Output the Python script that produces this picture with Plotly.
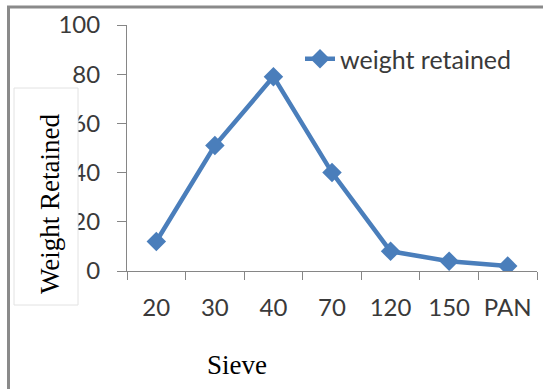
import plotly.graph_objects as go

# Sieve analysis: weight retained on each sieve
sieves = ["20", "30", "40", "70", "120", "150", "PAN"]
weight_retained = [12, 51, 79, 40, 8, 4, 2]
y_ticks = [0, 20, 40, 60, 80, 100]

W, H = 543, 389
L, R, T, B = 127, 6, 25, 118
pw, ph = W - L - R, H - T - B


def px_x(x):
    return (x - L) / pw


def px_y(y):
    return (H - B - y) / ph


blue = "#4a7ebb"
axis_grey = "#868686"
label_grey = "#3a3a3a"

fig = go.Figure()
fig.add_trace(go.Scatter(
    x=sieves, y=weight_retained, mode="lines+markers",
    name="weight retained",
    line=dict(color=blue, width=4.5),
    marker=dict(symbol="diamond", size=15, color=blue),
))

fig.update_layout(
    width=W, height=H,
    margin=dict(l=L, r=R, t=T, b=B),
    paper_bgcolor="white", plot_bgcolor="white",
    font=dict(family="Lato", color=label_grey),
    showlegend=True,
    legend=dict(x=px_x(300), y=px_y(59), xanchor="left", yanchor="middle",
                bgcolor="rgba(0,0,0,0)", font=dict(size=25, color=label_grey)),
    xaxis=dict(type="category", range=[-0.5, 6.5], showline=True,
               linecolor=axis_grey, linewidth=1, ticks="outside",
               tickson="boundaries", ticklen=8, tickcolor=axis_grey,
               showgrid=False, zeroline=False, ticklabelstandoff=15,
               tickfont=dict(size=24, color=label_grey)),
    yaxis=dict(range=[0, 100], tickvals=y_ticks, showline=True,
               linecolor=axis_grey, linewidth=1, ticks="outside", ticklen=9,
               tickcolor=axis_grey, showgrid=False, zeroline=False,
               ticklabelstandoff=12, tickfont=dict(size=24, color=label_grey)),
)

# Outer chart frame (left and top edges)
fig.add_shape(type="path", xref="paper", yref="paper",
              path=f"M {px_x(8.5)},{px_y(400)} L {px_x(8.5)},{px_y(7)} L {px_x(560)},{px_y(7)}",
              line=dict(color="#8a8a8a", width=3), layer="above")

# Boxed y-axis title
fig.add_shape(type="rect", xref="paper", yref="paper",
              x0=px_x(14), x1=px_x(78), y0=px_y(305), y1=px_y(88),
              fillcolor="white", line=dict(color="#e2e2e2", width=1),
              layer="above")
fig.add_annotation(text="Weight Retained", xref="paper", yref="paper",
                   x=px_x(50), y=px_y(204), xanchor="center", yanchor="middle",
                   showarrow=False, textangle=-90,
                   font=dict(family="Liberation Serif", size=27, color="black"))

fig.add_annotation(text="Sieve", xref="paper", yref="paper",
                   x=px_x(236.5), y=px_y(365), xanchor="center", yanchor="middle",
                   showarrow=False,
                   font=dict(family="Liberation Serif", size=27, color="black"))

fig.write_html("out.html")
